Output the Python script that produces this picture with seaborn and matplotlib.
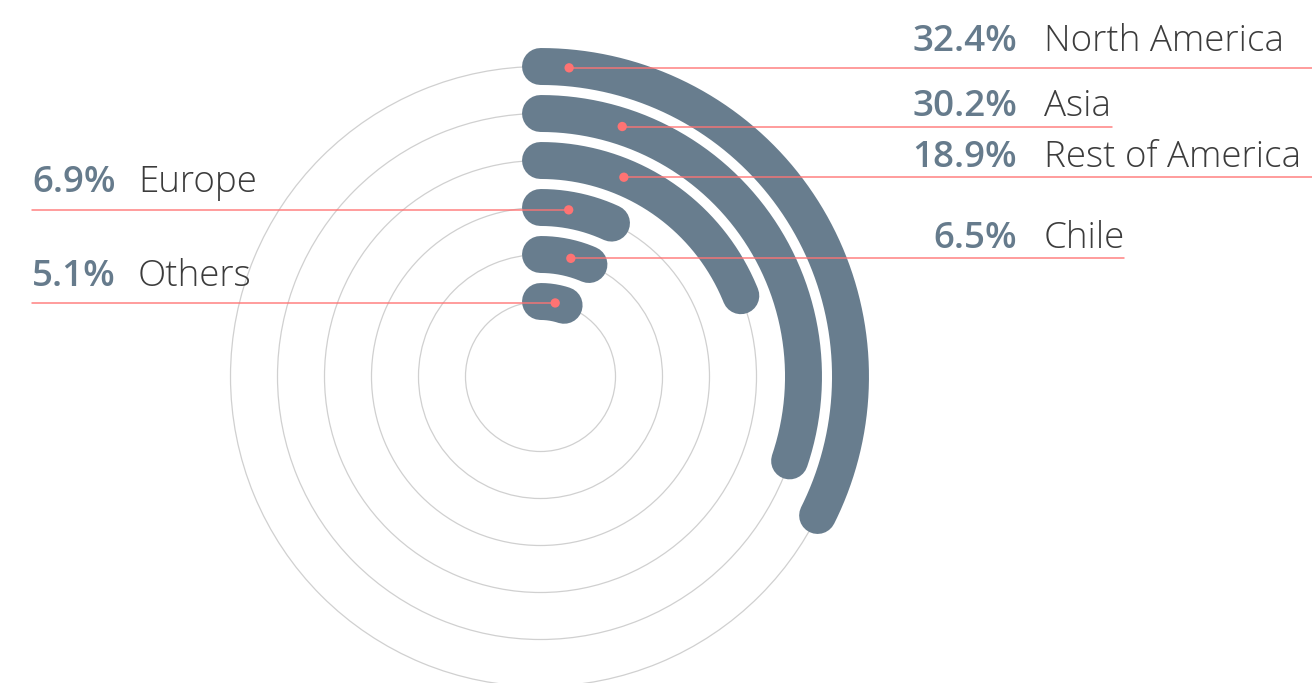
import numpy as np
import pandas as pd
import matplotlib
matplotlib.use("Agg")
import matplotlib.pyplot as plt
import seaborn as sns

# ---- data ----
regions = ["North America", "Asia", "Rest of America", "Europe", "Chile", "Others"]
shares = [32.4, 30.2, 18.9, 6.9, 6.5, 5.1]

# ---- layout (not data) ----
ring = [6, 5, 4, 3, 2, 1]                       # ring index, outer -> inner
dot_deg = [5.3, 18.1, 22.7, 9.6, 14.4, 11.3]    # where the leader dot sits on each bar
side = ["right", "right", "right", "left", "right", "left"]
line_end_px = [1312, 1112, 1312, 32, 1124, 32]
text_gap_px = [17, 11, 10, 18, 10, 17]

W, H = 1312, 683
BAR = "#687d8e"
RED = "#ff7373"
PCT = "#667b8c"
NAME = "#3c3c3c"

sns.set_theme(style="white")
plt.rcParams["font.family"] = ["Open Sans", "DejaVu Sans"]

fig = plt.figure(figsize=(W / 100, H / 100), dpi=100)
cx, cy, rpx = 540.5, 376.5, 357.0
ax = fig.add_axes([(cx - rpx) / W, (H - cy - rpx) / H, 2 * rpx / W, 2 * rpx / H],
                  projection="polar")
ax.set_theta_zero_location("N")
ax.set_theta_direction(-1)
ax.set_ylim(-0.596, 7)
ax.set_xticks([])
ax.set_yticks(ring)
ax.set_yticklabels([])
ax.yaxis.grid(True, color="#d0d0d0", lw=0.9)
ax.set_axisbelow(True)
ax.spines["polar"].set_visible(False)
ax.set_facecolor("none")

rows = []
for reg, s, rg in zip(regions, shares, ring):
    th = np.linspace(0, s / 100 * 2 * np.pi, 300)
    rows.append(pd.DataFrame({"region": reg, "theta": th, "r": rg}))
df = pd.concat(rows, ignore_index=True)

sns.lineplot(data=df, x="theta", y="r", units="region", estimator=None, sort=False,
             color=BAR, lw=26.6, solid_capstyle="round", ax=ax, legend=False, zorder=2)

dots = pd.DataFrame({"theta": np.deg2rad(dot_deg), "r": ring})
sns.scatterplot(data=dots, x="theta", y="r", color=RED, s=45, edgecolor="none",
                ax=ax, zorder=5, legend=False)
ax.set_xlabel("")
ax.set_ylabel("")

fig.canvas.draw()
for reg, s, th, rg, sd, xe, gap in zip(regions, shares, dot_deg, ring, side,
                                        line_end_px, text_gap_px):
    dx, dy = ax.transData.transform((np.deg2rad(th), rg))
    ax.plot([dx / W, xe / W], [dy / H, dy / H], transform=fig.transFigure,
            color=RED, lw=1.1, clip_on=False, zorder=4, alpha=0.9)
    yb = (dy + gap) / H
    if sd == "right":
        fig.text(1017 / W, yb, f"{s:.1f}%", ha="right", va="baseline",
                 fontsize=26.5, fontweight="semibold", color=PCT)
        fig.text(1044 / W, yb, reg, ha="left", va="baseline",
                 fontsize=26.5, fontweight="light", color=NAME)
    else:
        fig.text(32 / W, yb, f"{s:.1f}%", ha="left", va="baseline",
                 fontsize=26.5, fontweight="semibold", color=PCT)
        fig.text(138 / W, yb, reg, ha="left", va="baseline",
                 fontsize=26.5, fontweight="light", color=NAME)

fig.savefig("out.png", dpi=100)
